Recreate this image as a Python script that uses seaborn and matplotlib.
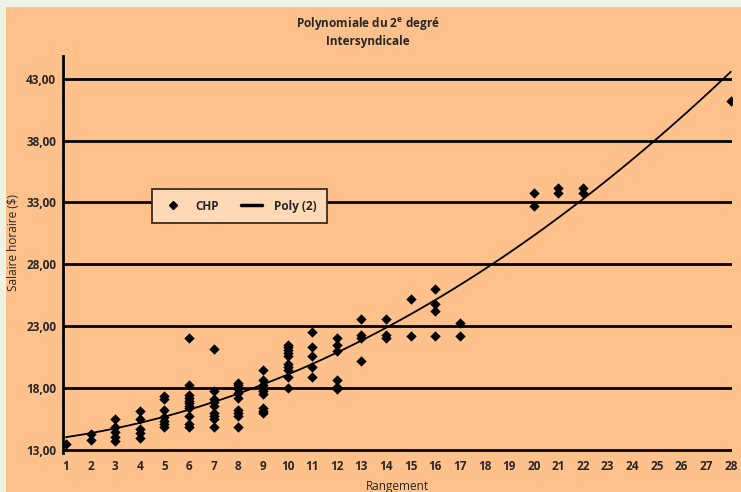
import numpy as np
import pandas as pd
import matplotlib
matplotlib.use("Agg")
import matplotlib.pyplot as plt
from matplotlib.patches import Rectangle
from matplotlib.lines import Line2D
from matplotlib.ticker import FuncFormatter, FixedLocator
import seaborn as sns

# Rangement (x) et salaire horaire (y)
rangs = (
    [1]
    + [2] * 2
    + [3] * 5
    + [4] * 5
    + [5] * 7
    + [6] * 11
    + [7] * 9
    + [8] * 9
    + [9] * 9
    + [10] * 10
    + [11] * 5
    + [12] * 6
    + [13] * 4
    + [14] * 3
    + [15] * 2
    + [16] * 4
    + [17] * 2
    + [20] * 2
    + [21] * 2
    + [22] * 2
    + [28]
)
salaires = [
    13.45,
    14.25, 13.8,
    15.45, 14.85, 14.45, 14.05, 13.7,
    16.1, 15.5, 14.65, 14.3, 13.95,
    17.3, 17.1, 16.2, 15.6, 15.3, 15.05, 14.8,
    22.0, 18.25, 17.45, 17.2, 16.95, 16.75, 16.55, 16.35, 15.75, 15.05, 14.8,
    21.1, 17.7, 17.1, 16.85, 16.55, 15.95, 15.75, 15.5, 14.8,
    18.4, 18.2, 17.9, 17.55, 17.2, 16.2, 15.95, 15.75, 14.8,
    19.4, 18.6, 18.25, 17.9, 17.7, 17.5, 16.4, 16.15, 15.95,
    21.5, 21.3, 21.05, 20.8, 20.55, 19.9, 19.65, 19.45, 18.85, 18.0,
    22.5, 21.3, 20.6, 19.7, 18.9,
    22.0, 21.45, 21.0, 18.6, 17.9, 18.05,
    23.6, 22.3, 22.0, 20.15,
    23.6, 22.25, 22.05,
    25.15, 22.2,
    26.0, 24.75, 24.2, 22.2,
    23.25, 22.2,
    33.8, 32.7,
    34.2, 33.8,
    34.15, 33.75,
    41.2,
]
x_ticks = list(range(1, 29))
y_ticks = [13, 18, 23, 28, 33, 38, 43]

df = pd.DataFrame({"rang": rangs, "salaire": salaires})

ORANGE = "#FFC18C"
FONT = ["Open Sans", "DejaVu Sans"]

sns.set_style("white")
plt.rcParams["font.family"] = FONT

fig = plt.figure(figsize=(7.41, 4.92), dpi=100)
fig.patch.set_facecolor("#EEF2E3")
fig.patches.append(Rectangle((6 / 741, 0), 1, 1 - 7 / 492, transform=fig.transFigure,
                             facecolor=ORANGE, edgecolor="none", zorder=-5))

ax = fig.add_axes([63 / 741, 1 - 453 / 492, (731.5 - 63) / 741, (453 - 56) / 492])
ax.set_zorder(2)
ax.set_facecolor(ORANGE)

# Horizontal grid lines
for v in y_ticks:
    ax.axhline(v, color="black", lw=2, zorder=1)

sns.scatterplot(data=df, x="rang", y="salaire", marker="D", s=28, color="black",
                edgecolor="black", linewidth=0, ax=ax, zorder=3)
sns.regplot(data=df, x="rang", y="salaire", order=2, ci=None, scatter=False,
            line_kws={"color": "black", "lw": 1.3}, ax=ax)

ax.set_xlim(0.88, 28.03)
ax.set_ylim(12.72, 44.86)
ax.xaxis.set_major_locator(FixedLocator(x_ticks))
ax.yaxis.set_major_locator(FixedLocator(y_ticks))
ax.yaxis.set_major_formatter(FuncFormatter(lambda v, p: f"{v:.2f}".replace(".", ",")))
ax.tick_params(axis="both", length=0, labelsize=8.5, pad=5)
for lab in ax.get_xticklabels() + ax.get_yticklabels():
    lab.set_fontweight("bold")

for side in ["top", "right", "bottom"]:
    ax.spines[side].set_visible(False)
ax.spines["left"].set_color("black")
ax.spines["left"].set_linewidth(2)

ax.set_xlabel("Rangement", fontsize=8.5, labelpad=5)
ax.set_ylabel("Salaire horaire ($)", fontsize=8.5)
ax.yaxis.set_label_coords(-0.064, 0.53)

fig.text(0.497, 1 - 24 / 492, r"Polynomiale du 2$^{\mathregular{e}}$ degré", ha="center", va="center",
         fontsize=8.5, fontweight="bold")
fig.text(0.497, 1 - 42 / 492, "Intersyndicale", ha="center", va="center",
         fontsize=8.5, fontweight="bold")

handles = [
    Line2D([], [], marker="D", color="black", ls="none", markersize=4.5),
    Line2D([], [], color="black", lw=2.5),
]
leg = ax.legend(handles, ["CHP", "Poly (2)"], ncol=2, loc="upper left",
                bbox_to_anchor=((152 - 63) / 668.5, (453 - 189) / 397),
                borderaxespad=0, frameon=True, fancybox=False, framealpha=1,
                facecolor="#FFD8B6", edgecolor="#3A2A20", borderpad=0.9,
                handlelength=1.8, columnspacing=1.8, handletextpad=1.0,
                prop={"size": 8.5, "weight": "bold", "family": FONT})
leg.get_frame().set_linewidth(1.3)

fig.savefig("out.png", dpi=100, facecolor=fig.get_facecolor())
